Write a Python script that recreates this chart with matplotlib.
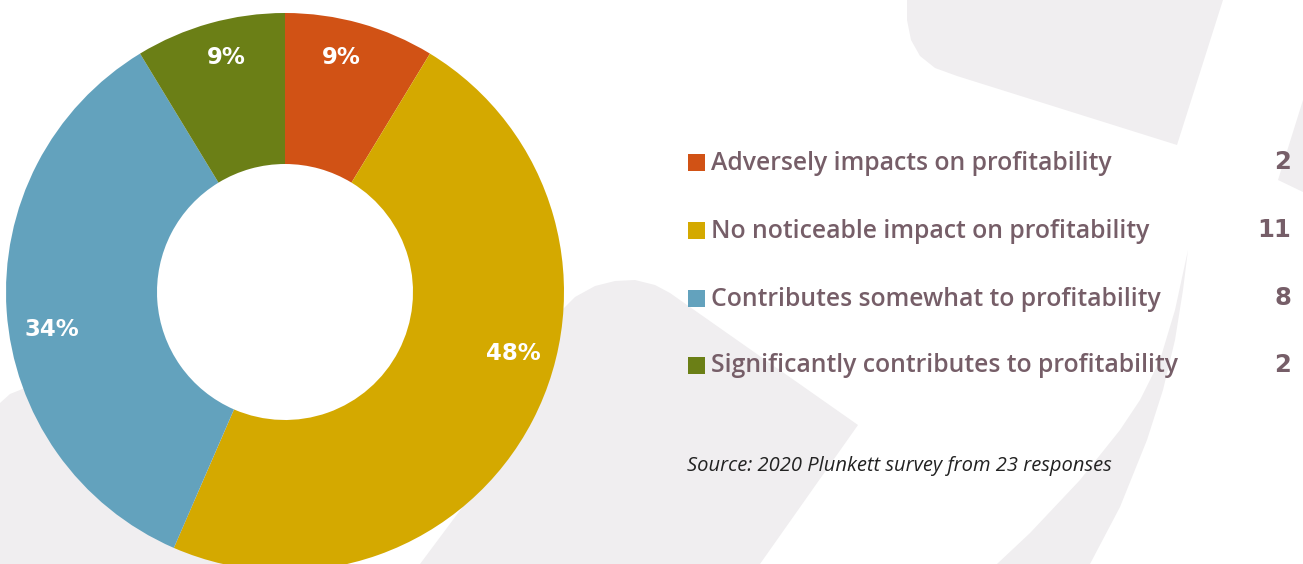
import matplotlib.pyplot as plt
from matplotlib.patches import Polygon

# data
categories = [
    "Adversely impacts on profitability",
    "No noticeable impact on profitability",
    "Contributes somewhat to profitability",
    "Significantly contributes to profitability",
]
counts = [2, 11, 8, 2]
pct_labels = ["9%", "48%", "34%", "9%"]
colors = ["#d15215", "#d4a900", "#63a2bd", "#6b7f16"]
source = "Source: 2020 Plunkett survey from 23 responses"

W, H = 1303, 564
BG_GREY = "#f0eef0"
TEXT_COL = "#765e68"


def img(x, y):
    # image pixel coords (origin top-left) -> data coords
    return (x, H - y)


fig = plt.figure(figsize=(W / 100, H / 100), dpi=100)
ax = fig.add_axes([0, 0, 1, 1])

# decorative grey background shapes
shapes = [
    [(907, 0), (907, 20), (911, 40), (920, 56), (935, 68), (957, 76),
     (1177, 145), (1223, 0)],
    [(1303, 100), (1278, 180), (1303, 192)],
    [(1188, 250), (1183, 290), (1175, 340), (1163, 390), (1147, 440),
     (1120, 507), (1090, 564), (997, 564), (1030, 533), (1080, 480),
     (1120, 430), (1140, 400), (1160, 360), (1175, 310)],
    [(420, 564), (520, 430), (540, 360), (548, 335), (560, 312), (575, 297),
     (595, 286), (615, 281), (635, 280), (655, 285), (670, 293),
     (858, 425), (760, 564)],
    [(0, 403), (10, 394), (25, 388), (45, 384), (70, 382), (260, 564),
     (0, 564)],
]
for pts in shapes:
    ax.add_patch(Polygon([img(x, y) for x, y in pts], closed=True,
                         facecolor=BG_GREY, edgecolor="none", zorder=0))

# donut
cx, cy = img(285, 292)
R, r_in = 279, 128
wedges, _ = ax.pie(counts, colors=colors, startangle=90, counterclock=False,
                   center=(cx, cy), radius=R, frame=True,
                   wedgeprops=dict(width=R - r_in, linewidth=0))
ax.set_xlim(0, W)
ax.set_ylim(0, H)
ax.set_aspect("equal")
ax.axis("off")

# percentage labels inside the ring
label_pos = [(341, 57), (513, 354), (52, 330), (226, 57)]
for (x, y), t in zip(label_pos, pct_labels):
    ax.text(*img(x, y), t, color="white", fontsize=16.5, fontweight="bold",
            family="DejaVu Sans", ha="center", va="center", zorder=5)

# legend
row_y = [162, 230, 298, 365]
for yy, cat, n, c in zip(row_y, categories, counts, colors):
    x0, y0 = img(688, yy + 9)
    ax.add_patch(plt.Rectangle((x0, y0), 17, 17, facecolor=c,
                               edgecolor="none", zorder=5))
    ax.text(*img(711, yy + 1), cat, color=TEXT_COL, fontsize=17.8,
            family="Open Sans", fontweight="semibold", ha="left",
            va="center", zorder=5)
    ax.text(*img(1291, yy), str(n), color=TEXT_COL, fontsize=17.5,
            family="DejaVu Sans", fontweight="bold", ha="right",
            va="center", zorder=5)

ax.text(*img(687, 466), source, color="#222222", fontsize=14.5,
        family="Open Sans", style="italic", ha="left", va="center")

fig.savefig("out.png", dpi=100, facecolor="white")
